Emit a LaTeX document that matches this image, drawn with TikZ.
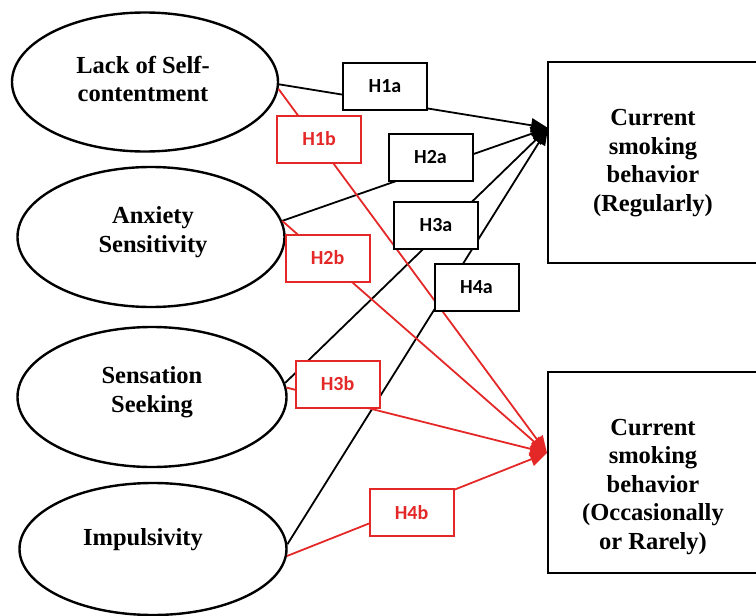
\documentclass[tikz,border=0pt]{standalone}
\usepackage{fontspec}
\setmainfont{Liberation Serif}
\newfontfamily\hfont{Carlito}
\usetikzlibrary{shapes.geometric,arrows.meta}
\definecolor{hred}{RGB}{228,40,40}
\begin{document}
\begin{tikzpicture}[x=1pt,y=-1pt,
  factor/.style={ellipse,draw,line width=2.4pt,minimum width=266pt,minimum height=140pt,inner sep=0pt},
  ftext/.style={font=\fontsize{24.5}{28.5}\selectfont\bfseries,align=center,inner sep=0pt},
  outbox/.style={draw,line width=1.8pt,minimum width=210pt,minimum height=201pt,inner sep=0pt},
  hbox/.style={draw,fill=white,line width=2pt,minimum width=84pt,minimum height=47pt,inner sep=0pt,font=\hfont\bfseries\fontsize{20}{22}\selectfont},
  redbox/.style={hbox,draw=hred,text=hred},
  blkline/.style={line width=1.8pt,-{Triangle[length=17pt,width=14pt]}},
  redline/.style={blkline,color=hred}
]
\useasboundingbox (0,0) rectangle (756,616);
% factors
\node[factor,minimum width=266pt,minimum height=139pt] (e1) at (145,82) {};
\node[factor,minimum width=267pt,minimum height=140pt] (e2) at (151,237) {};
\node[factor,minimum width=269pt,minimum height=140pt] (e3) at (152,397) {};
\node[factor,minimum width=267pt,minimum height=132pt] (e4) at (153,549) {};
\node[ftext] (e1t) at (143,79) {Lack of Self-\\contentment};
\node[ftext] (e2t) at (153,232) {Anxiety\\Sensitivity};
\node[ftext] (e3t) at (152,392) {Sensation\\Seeking};
\node[ftext] (e4t) at (143,540) {Impulsivity};
% outcomes
\node[outbox] (o1) at (653,162.5) {};
\node[outbox] (o2) at (653,472.5) {};
\node[ftext] (o1t) at (653,163) {Current\\smoking\\behavior\\(Regularly)};
\node[ftext] (o2t) at (653,487) {Current\\smoking\\behavior\\(Occasionally\\or Rarely)};
\coordinate (tA) at (548,128);
\coordinate (tB) at (547,453);
% connectors
\draw[blkline] (e1.-1) -- (tA);
\draw[blkline] (e2.7) -- (tA);
\draw[blkline] (e3.6) -- (tA);
\draw[blkline] (e4.2) -- (tA);
\draw[redline] (e1.-3) -- (tB);
\draw[redline] (e2.7) -- (tB);
\draw[redline] (e3.4) -- (tB);
\draw[redline] (e4.-3) -- (tB);
% hypothesis labels
\node[hbox] (h1a) at (385,86.5) {H1a};
\node[redbox] (h1b) at (319,139) {H1b};
\node[hbox] (h2a) at (430.5,157.5) {H2a};
\node[hbox] (h3a) at (436,225) {H3a};
\node[redbox] (h2b) at (327.5,258) {H2b};
\node[hbox] (h4a) at (476.5,287.5) {H4a};
\node[redbox] (h3b) at (337.5,384) {H3b};
\node[redbox] (h4b) at (411.5,512.5) {H4b};
\end{tikzpicture}
\end{document}
